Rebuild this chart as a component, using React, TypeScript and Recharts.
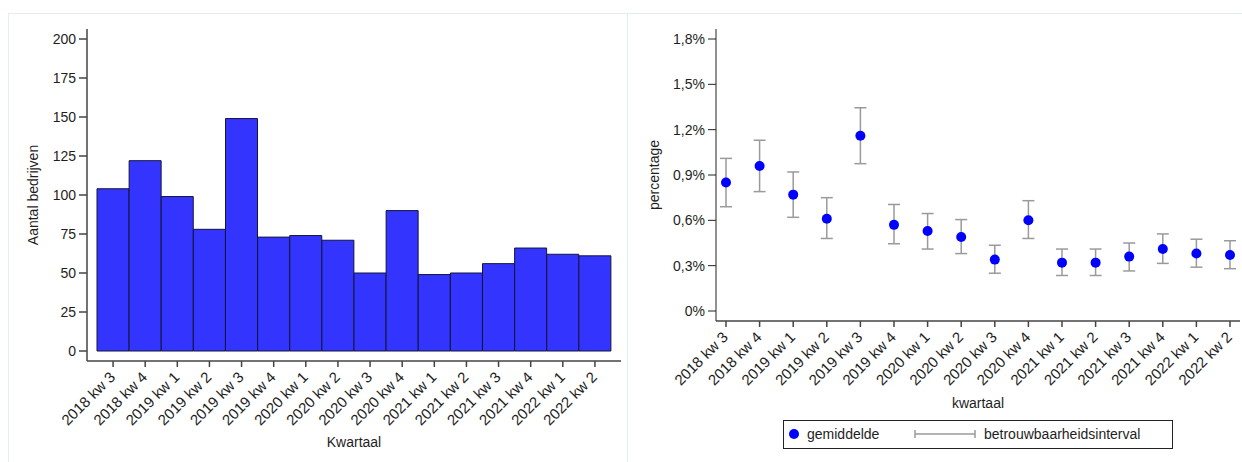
import React from 'react';
import { BarChart, Bar, LineChart, Line, ErrorBar, XAxis, YAxis, CartesianGrid, Label } from 'recharts';

const FONT = '"Liberation Sans", Arial, Helvetica, sans-serif';
const GRID = '#e4eded';
const AXIS = '#444';
const TEXT = '#1e1e1e';

const QUARTERS = [
  '2018 kw 3', '2018 kw 4', '2019 kw 1', '2019 kw 2', '2019 kw 3', '2019 kw 4',
  '2020 kw 1', '2020 kw 2', '2020 kw 3', '2020 kw 4', '2021 kw 1', '2021 kw 2',
  '2021 kw 3', '2021 kw 4', '2022 kw 1', '2022 kw 2',
];
const COMPANY_COUNTS = [104, 122, 99, 78, 149, 73, 74, 71, 50, 90, 49, 50, 56, 66, 62, 61];
const COUNT_TICKS = [0, 25, 50, 75, 100, 125, 150, 175, 200];

// percentages, with the confidence interval bounds
const MEAN_PCT = [0.85, 0.96, 0.77, 0.61, 1.16, 0.57, 0.53, 0.49, 0.34, 0.6, 0.32, 0.32, 0.36, 0.41, 0.38, 0.37];
const CI_LOW = [0.69, 0.79, 0.62, 0.48, 0.975, 0.445, 0.41, 0.38, 0.25, 0.48, 0.235, 0.235, 0.265, 0.315, 0.29, 0.28];
const CI_HIGH = [1.01, 1.13, 0.92, 0.75, 1.345, 0.705, 0.645, 0.605, 0.435, 0.73, 0.41, 0.41, 0.45, 0.51, 0.475, 0.465];
const PCT_TICKS = [0, 0.3, 0.6, 0.9, 1.2, 1.5, 1.8];

const countData = QUARTERS.map((q, i) => ({ q, count: COMPANY_COUNTS[i] }));
const pctData = QUARTERS.map((q, i) => ({
  q,
  mean: MEAN_PCT[i],
  ci: [MEAN_PCT[i] - CI_LOW[i], CI_HIGH[i] - MEAN_PCT[i]],
}));

const fmtPct = (v: number) => `${String(v).replace('.', ',')}%`;

// grid at every tick except the top one
const gridBelowTop = (ticks: number[]) => ({ yAxis }: any) =>
  yAxis && typeof yAxis.scale === 'function' ? ticks.slice(0, -1).map(v => yAxis.scale(v)) : [];

function SlantTick({ x, y, payload }: any) {
  return (
    <g transform={`translate(${x + 3},${y + 9})`}>
      <text textAnchor="end" transform="rotate(-45)" fill={TEXT} fontSize={15} fontFamily={FONT}>
        {payload.value}
      </text>
    </g>
  );
}

function yTitle(text: string, left: number) {
  return ({ viewBox }: any) => {
    const cx = (viewBox?.x ?? 0) + left;
    const cy = (viewBox?.y ?? 29) + (viewBox?.height ?? 332) / 2;
    return (
      <text x={cx} y={cy} transform={`rotate(-90 ${cx} ${cy})`} textAnchor="middle" dominantBaseline="central"
        fill={TEXT} fontSize={14} fontFamily={FONT}>{text}</text>
    );
  };
}

function xTitle(text: string, dy: number) {
  return ({ viewBox }: any) => {
    const cx = (viewBox?.x ?? 0) + (viewBox?.width ?? 0) / 2;
    const cy = (viewBox?.y ?? 0) + dy;
    return (
      <text x={cx} y={cy} textAnchor="middle" dominantBaseline="central" fill={TEXT} fontSize={14} fontFamily={FONT}>{text}</text>
    );
  };
}

function CountChart() {
  return (
    <BarChart width={625} height={462} data={countData} margin={{ top: 29, right: 4, bottom: 0, left: 0 }}
      barCategoryGap={0}>
      <CartesianGrid vertical={false} stroke={GRID} strokeWidth={1.5}
        horizontalCoordinatesGenerator={gridBelowTop(COUNT_TICKS)} />
      <XAxis dataKey="q" height={101} padding={{ left: 10, right: 10 }} interval={0} tick={<SlantTick />}
        tickSize={6} tickMargin={2} stroke={AXIS} strokeWidth={1.5} tickLine={{ stroke: AXIS }}>
        <Label content={xTitle('Kwartaal', 81)} />
      </XAxis>
      <YAxis width={87} domain={[0, 200]} ticks={COUNT_TICKS} padding={{ top: 10, bottom: 10 }} tickSize={8}
        tickMargin={3} stroke={AXIS} strokeWidth={1.5} tick={{ fill: TEXT, fontSize: 14, fontFamily: FONT }}>
        <Label content={yTitle('Aantal bedrijven', 33)} />
      </YAxis>
      <Bar dataKey="count" fill="#3434ff" stroke="#14143c" strokeWidth={1} isAnimationActive={false} />
    </BarChart>
  );
}

function PctChart() {
  return (
    <LineChart width={614} height={462} data={pctData} margin={{ top: 29, right: 2, bottom: 0, left: 0 }}>
      <CartesianGrid vertical={false} stroke={GRID} strokeWidth={1.5}
        horizontalCoordinatesGenerator={gridBelowTop(PCT_TICKS)} />
      <XAxis dataKey="q" scale="point" height={141} padding={{ left: 10, right: 10 }} interval={0}
        tick={<SlantTick />} tickSize={6} tickMargin={2} stroke={AXIS} strokeWidth={1.5} tickLine={{ stroke: AXIS }}>
        <Label content={xTitle('kwartaal', 82)} />
      </XAxis>
      <YAxis width={88} domain={[0, 1.8]} ticks={PCT_TICKS} padding={{ top: 10, bottom: 10 }} tickSize={8}
        tickMargin={3} stroke="#222" tickFormatter={fmtPct} tick={{ fill: TEXT, fontSize: 14, fontFamily: FONT }}>
        <Label content={yTitle('percentage', 26)} />
      </YAxis>
      <Line dataKey="mean" stroke="none" isAnimationActive={false}
        dot={{ r: 5, fill: '#0000ff', stroke: 'none' }} activeDot={false}>
        <ErrorBar dataKey="ci" direction="y" width={6} stroke="#9a9a9a" strokeWidth={1.5} />
      </Line>
    </LineChart>
  );
}

function LegendBox() {
  return (
    <div style={{
      position: 'absolute', left: 783, top: 420, width: 390, height: 29, boxSizing: 'border-box',
      border: '1px solid #222', fontFamily: FONT, fontSize: 14, color: TEXT, background: '#fff',
    }}>
      <svg width={12} height={12} style={{ position: 'absolute', left: 4, top: 7 }}>
        <circle cx={6} cy={6} r={5} fill="#0000ff" />
      </svg>
      <span style={{ position: 'absolute', left: 23, top: 5 }}>gemiddelde</span>
      <svg width={64} height={12} style={{ position: 'absolute', left: 129, top: 7 }}>
        <line x1={2} y1={6} x2={62} y2={6} stroke="#9a9a9a" strokeWidth={1.5} />
        <line x1={2} y1={2} x2={2} y2={10} stroke="#9a9a9a" strokeWidth={1.5} />
        <line x1={62} y1={2} x2={62} y2={10} stroke="#9a9a9a" strokeWidth={1.5} />
      </svg>
      <span style={{ position: 'absolute', left: 200, top: 5 }}>betrouwbaarheidsinterval</span>
    </div>
  );
}

export default function App() {
  return (
    <div style={{ position: 'absolute', left: 0, top: 0, width: 1242, height: 462, background: '#fff', overflow: 'hidden' }}>
      <div style={{ position: 'absolute', left: 8, top: 13, width: 1300, height: 500, borderTop: '1px solid #e6eded', borderLeft: '1px solid #e6eded' }} />
      <div style={{ position: 'absolute', left: 627, top: 13, width: 1, height: 460, background: '#e6eded' }} />
      <div style={{ position: 'absolute', left: 0, top: 0 }}>
        <CountChart />
      </div>
      <div style={{ position: 'absolute', left: 628, top: 0 }}>
        <PctChart />
      </div>
      <LegendBox />
    </div>
  );
}
